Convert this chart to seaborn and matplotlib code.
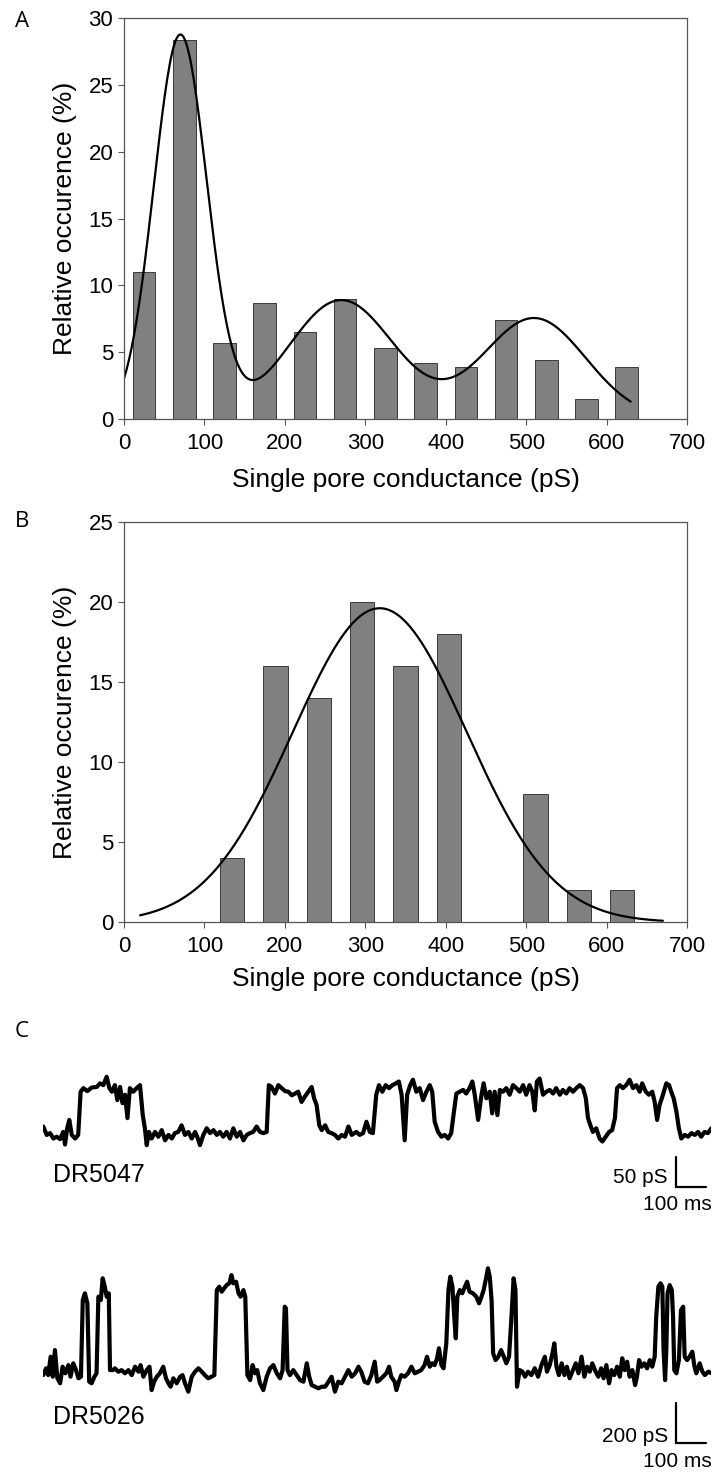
import numpy as np
import pandas as pd
import matplotlib
matplotlib.use("Agg")
import matplotlib.pyplot as plt
import seaborn as sns

# ---- panel A: pore conductance histogram, DR5047 ----
cond_a = [25, 75, 125, 175, 225, 275, 325, 375, 425, 475, 525, 575, 625]   # bin centre (pS)
occ_a = [11.0, 28.4, 5.7, 8.7, 6.5, 9.0, 5.3, 4.2, 3.9, 7.4, 4.4, 1.5, 3.9]  # relative occurence (%)
# gaussian fit components: amplitude (%), centre (pS), sd (pS)
fit_a_amp = [28.7, 8.9, 7.55]
fit_a_mu = [70, 270, 510]
fit_a_sd = [33, 66, 64]
fit_a_span = (0, 630)

# ---- panel B: pore conductance histogram, DR5026 ----
cond_b = [134.6, 188.5, 242.3, 296.2, 350.0, 403.8, 457.7, 511.5, 565.4, 619.2]
occ_b = [4, 16, 14, 20, 16, 18, 0, 8, 2, 2]
fit_b_amp = [19.6]
fit_b_mu = [318]
fit_b_sd = [108]
fit_b_span = (20, 670)

# ---- panel C: example current traces, time (ms) and conductance over closed level (pS) ----
t_5047 = [0, 11, 22, 33, 44, 55, 65, 71, 78, 85,
          93, 104, 114, 122, 131, 144, 158, 175, 185, 196,
          207, 216, 224, 234, 242, 251, 259, 267, 275, 283,
          294, 305, 316, 325, 332, 338, 345, 354, 365, 376,
          387, 398, 409, 420, 430, 441, 452, 463, 474, 485,
          496, 503, 512, 523, 534, 545, 556, 567, 577, 588,
          599, 610, 621, 632, 643, 654, 665, 675, 686, 697,
          708, 719, 730, 737, 746, 757, 768, 779, 790, 801,
          812, 823, 833, 844, 855, 866, 877, 885, 893, 902,
          910, 921, 931, 942, 953, 964, 975, 986, 997, 1008,
          1023, 1034, 1045, 1056, 1067, 1077, 1088, 1097, 1108, 1119,
          1130, 1141, 1152, 1162, 1171, 1181, 1189, 1199, 1208, 1219,
          1230, 1241, 1252, 1263, 1271, 1279, 1290, 1301, 1312, 1323,
          1333, 1342, 1350, 1361, 1372, 1382, 1393, 1402, 1410, 1421,
          1432, 1439, 1448, 1459, 1467, 1475, 1484, 1492, 1502, 1513,
          1524, 1535, 1546, 1557, 1568, 1578, 1589, 1598, 1606, 1613,
          1622, 1633, 1644, 1655, 1666, 1676, 1688, 1698, 1709, 1720,
          1731, 1742, 1753, 1764, 1773, 1780, 1788, 1796, 1807, 1818,
          1827, 1838, 1849, 1859, 1868, 1875, 1884, 1894, 1905, 1916,
          1927, 1938, 1949, 1957, 1969, 1979, 1990, 1998, 2006, 2014,
          2025, 2036, 2045, 2052, 2060, 2069, 2077, 2085, 2096, 2107,
          2118, 2129, 2140, 2150, 2161, 2172, 2183]
g_5047 = [17, 3, 6, -3, 0, -4, 8, -13, 14, 28,
          3, -3, 3, 75, 81, 76, 82, 83, 89, 86,
          100, 81, 75, 86, 61, 83, 56, 70, 31, 81,
          75, 81, 86, 36, 14, -14, 8, -3, 8, 0,
          11, -6, 3, -3, 6, 8, 19, 3, 8, -3,
          8, 0, -14, 3, 14, 6, 11, 3, 8, 0,
          8, -3, 14, 0, 8, -6, 3, 6, 8, 17,
          8, 6, 8, 86, 83, 72, 86, 81, 76, 75,
          69, 72, 75, 58, 67, 75, 83, 64, 53, 19,
          11, 19, 8, 6, 3, -3, 3, 0, 17, 3,
          8, 3, 6, 25, 8, 6, 70, 86, 75, 86,
          81, 86, 89, 92, 70, -6, 70, 86, 95, 75,
          81, 61, 75, 86, 75, 25, 8, 0, 3, -3,
          6, 42, 72, 75, 78, 72, 81, 92, 70, 28,
          70, 89, 64, 75, 39, 75, 36, 78, 75, 81,
          70, 86, 81, 75, 86, 70, 86, 75, 44, 92,
          97, 70, 75, 78, 72, 81, 70, 78, 72, 81,
          75, 81, 86, 81, 64, 31, 19, 8, 14, -3,
          -8, 0, 8, 11, 31, 81, 86, 81, 86, 95,
          81, 86, 75, 89, 75, 70, 75, 58, 28, 53,
          70, 89, 86, 75, 64, 42, 14, -3, 3, 0,
          6, 3, 8, 0, 8, 6, 14]

t_5026 = [0, 9, 16, 24, 31, 38, 46, 55, 63, 72,
          82, 89, 98, 107, 115, 123, 129, 136, 144, 150,
          158, 167, 174, 180, 188, 194, 201, 207, 214, 218,
          227, 234, 245, 256, 267, 278, 289, 300, 311, 318,
          327, 338, 347, 354, 362, 371, 381, 392, 401, 409,
          416, 425, 436, 447, 455, 463, 474, 485, 496, 507,
          518, 528, 539, 550, 559, 567, 575, 583, 591, 599,
          608, 615, 621, 630, 638, 645, 654, 660, 667, 676,
          684, 692, 699, 708, 719, 730, 741, 752, 763, 774,
          782, 789, 793, 798, 806, 817, 828, 839, 850, 861,
          869, 877, 888, 899, 910, 921, 932, 942, 953, 964,
          975, 986, 997, 1008, 1019, 1030, 1039, 1050, 1061, 1072,
          1083, 1091, 1099, 1110, 1121, 1130, 1137, 1148, 1154, 1162,
          1170, 1181, 1192, 1203, 1214, 1225, 1235, 1246, 1254, 1263,
          1271, 1279, 1287, 1293, 1301, 1308, 1317, 1324, 1330, 1337,
          1343, 1348, 1353, 1361, 1369, 1378, 1385, 1393, 1404, 1415,
          1424, 1432, 1439, 1448, 1453, 1459, 1465, 1470, 1478, 1487,
          1496, 1505, 1513, 1522, 1530, 1537, 1543, 1548, 1557, 1566,
          1574, 1584, 1595, 1606, 1617, 1628, 1639, 1646, 1655, 1664,
          1670, 1677, 1685, 1694, 1703, 1711, 1720, 1731, 1740, 1749,
          1759, 1768, 1777, 1786, 1794, 1805, 1814, 1823, 1831, 1840,
          1849, 1857, 1866, 1875, 1884, 1892, 1900, 1908, 1916, 1925,
          1934, 1940, 1947, 1955, 1964, 1973, 1982, 1990, 1998, 2003,
          2010, 2017, 2023, 2027, 2032, 2036, 2040, 2047, 2054, 2058,
          2062, 2069, 2077, 2084, 2091, 2096, 2104, 2112, 2121, 2128,
          2134, 2145, 2154, 2162, 2173, 2184]
g_5026 = [8, 42, 8, 100, 0, 133, -8, -33, 50, 17,
          58, 0, 67, 33, -8, 0, 383, 417, 367, -25,
          -33, 0, 17, 400, 383, 492, 450, 400, 417, 33,
          33, 42, 25, 33, 17, 33, 8, 50, 25, 58,
          0, 33, 50, -67, -25, 0, 17, 50, -8, -33,
          -50, -8, -33, 0, 8, -33, -75, 0, 25, 42,
          25, 8, -8, 0, 8, 433, 450, 425, 442, 458,
          467, 508, 467, 475, 417, 400, 433, 400, 8, -17,
          58, 17, 33, -33, -67, 0, 42, 58, 17, -8,
          33, 350, 342, 33, 8, 33, 8, -17, -25, 67,
          0, -42, -50, -58, -50, -50, -25, 0, -75, -25,
          -33, 0, 33, 0, 17, 50, 25, -25, -33, 8,
          75, -25, -17, 0, 17, 50, 0, -25, -67, -25,
          8, 0, 17, 50, 17, 25, 33, 58, 100, 50,
          67, 58, 92, 142, 58, 42, 167, 433, 500, 450,
          300, 192, 400, 433, 417, 450, 475, 425, 417, 400,
          367, 400, 433, 500, 542, 500, 383, 117, 83, 100,
          133, 100, 67, 100, 300, 492, 433, -50, 33, 25,
          0, 25, 8, 42, 0, 58, 100, 25, 58, 117,
          167, 50, 8, 67, 8, 50, -8, 33, 67, 17,
          100, 0, 50, 25, 67, 25, 0, 42, -8, 58,
          -33, 33, 8, 50, 0, 92, 33, 75, 0, 33,
          -42, 0, 83, 50, 67, 42, 83, 50, 100, 300,
          450, 467, 450, 133, -17, 133, 417, 458, 433, 300,
          33, 17, 83, 333, 350, 100, 83, 100, 125, 50,
          17, 67, 25, 8, 25, 17]

scale_ms = 100
scale_ps_5047 = 50
scale_ps_5026 = 200

bar_grey = "#808080"
edge_grey = "#3a3a3a"
spine_grey = "#555555"

sns.set_style("ticks")
plt.rcParams["font.family"] = ["Liberation Sans", "DejaVu Sans"]
plt.rcParams["text.color"] = "black"
plt.rcParams["axes.labelcolor"] = "black"

W, H = 713, 1473
fig = plt.figure(figsize=(W / 100, H / 100), dpi=100)


def frame(left, top, right, bottom):
    # axes box given in pixels of the final image
    return fig.add_axes([left / W, 1 - bottom / H, (right - left) / W, (bottom - top) / H])


def histogram_panel(ax, centres, occ, amp, mu, sd, span, ymax, xlab_y):
    df = pd.DataFrame({"cond": centres, "occ": occ})
    sns.barplot(data=df, x="cond", y="occ", native_scale=True, color=bar_grey,
                saturation=1, edgecolor=edge_grey, linewidth=0.7, width=0.56,
                errorbar=None, ax=ax)
    xs = np.linspace(span[0], span[1], 400)
    fit = np.zeros_like(xs)
    for a, m, s in zip(amp, mu, sd):
        fit += a * np.exp(-(xs - m) ** 2 / (2 * s ** 2))
    sns.lineplot(x=xs, y=fit, color="black", linewidth=1.6, ax=ax)
    ax.set_xlim(0, 700)
    ax.set_ylim(0, ymax)
    ax.set_xticks(range(0, 701, 100))
    ax.set_yticks(range(0, ymax + 1, 5))
    ax.set_xticklabels([str(v) for v in range(0, 701, 100)])
    ax.set_yticklabels([str(v) for v in range(0, ymax + 1, 5)])
    for sp in ax.spines.values():
        sp.set_visible(True)
        sp.set_color(spine_grey)
        sp.set_linewidth(0.9)
    ax.tick_params(axis="both", direction="out", length=4.3, width=0.8,
                   color=spine_grey, labelsize=16, labelcolor="black")
    ax.tick_params(axis="x", pad=5.8)
    ax.tick_params(axis="y", pad=3.4)
    ax.set_xlabel("Single pore conductance (pS)", fontsize=19, color="black")
    ax.set_ylabel("Relative occurence (%)", fontsize=19, color="black")
    ax.xaxis.set_label_coords(0.5, xlab_y)
    ax.yaxis.set_label_coords(-0.0835, 0.5)


ax_a = frame(124, 18.3, 687, 419)
histogram_panel(ax_a, cond_a, occ_a, fit_a_amp, fit_a_mu, fit_a_sd, fit_a_span, 30, -0.1215)

ax_b = frame(124, 521.7, 687, 922.3)
histogram_panel(ax_b, cond_b, occ_b, fit_b_amp, fit_b_mu, fit_b_sd, fit_b_span, 25, -0.1108)


def trace_panel(ax, t, g, ylim, bar_ps, bar_x0, bar_y0):
    sns.lineplot(x=t, y=g, estimator=None, sort=False, color="black",
                 linewidth=3.0, ax=ax)
    ax.set_xlim(0, 2183)
    ax.set_ylim(*ylim)
    # L-shaped scale bar
    ax.plot([bar_x0, bar_x0, bar_x0 + scale_ms], [bar_y0 + bar_ps, bar_y0, bar_y0],
            color="black", linewidth=1.6, solid_joinstyle="miter")
    ax.axis("off")


ax_c1 = frame(43.3, 1060, 711.3, 1215)
trace_panel(ax_c1, t_5047, g_5047, (-130.5, 127.9), scale_ps_5047, 2067, -83.3)

ax_c2 = frame(43.3, 1260, 711.3, 1450)
trace_panel(ax_c2, t_5026, g_5026, (-366.5, 583.5), scale_ps_5026, 2067, -333)


def fig_text(x, y, s, **kw):
    fig.text(x / W, 1 - y / H, s, color="black", **kw)


for letter, y in [("A", 21.7), ("B", 521.7), ("C", 1031.7)]:
    fig_text(21.7, y, letter, fontsize=16, family=["Open Sans", "DejaVu Sans"],
             ha="center", va="center")

fig_text(52.7, 1175, "DR5047", fontsize=18, ha="left", va="center")
fig_text(668, 1177.7, "%d pS" % scale_ps_5047, fontsize=15, ha="right", va="center")
fig_text(712, 1204.3, "%d ms" % scale_ms, fontsize=15, ha="right", va="center")

fig_text(52.7, 1416.7, "DR5026", fontsize=18, ha="left", va="center")
fig_text(668, 1436.7, "%d pS" % scale_ps_5026, fontsize=15, ha="right", va="center")
fig_text(712, 1461.7, "%d ms" % scale_ms, fontsize=15, ha="right", va="center")

fig.savefig("out.png", dpi=100)
